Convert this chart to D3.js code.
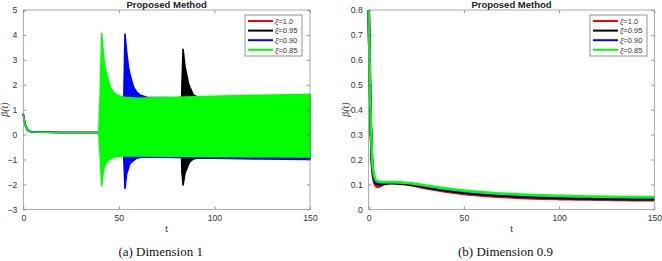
<!DOCTYPE html>
<html>
<head>
<meta charset="utf-8">
<script src="https://cdn.jsdelivr.net/npm/d3@7"></script>
<style>
  body { margin: 0; background: #fff; }
  svg { display: block; }
  .tick text { font-family: "Liberation Sans", Arial, sans-serif; font-size: 8.6px; fill: #333; }
</style>
</head>
<body>
<div id="root"></div>
<script>
// ---- data ----
const seriesNames = ["ξ=1.0", "ξ=0.95", "ξ=0.90", "ξ=0.85"];
const seriesColors = ["#ff0000", "#000000", "#0000ff", "#00ff00"];

// panel (a): envelope of the oscillation [t, upper, lower]
const envRed = [
  [0, 0.82, 0.82], [0.5, 0.6, 0.6], [1, 0.4, 0.4], [2, 0.2, 0.2], [3, 0.13, 0.13], [5, 0.1, 0.1],
  [10, 0.09, 0.09], [20, 0.085, 0.085], [30, 0.08, 0.08], [150, 0.07, 0.07]
];
const envBlack = [
  [0, 0.8, 0.8], [0.5, 0.6, 0.6], [1, 0.4, 0.4], [2, 0.2, 0.2], [3, 0.13, 0.13], [5, 0.1, 0.1],
  [10, 0.09, 0.09], [20, 0.085, 0.085], [30, 0.08, 0.08], [82.5, 0.08, 0.08],
  [83, 2.0, -1.5], [83.6, 3.42, -2.02], [84.6, 2.73, -1.55], [86.4, 2.06, -1.2], [87.2, 1.9, -1.09],
  [89, 1.59, -0.98], [90.7, 1.52, -0.95], [100, 1.5, -0.94], [150, 1.55, -0.95]
];
const envBlue = [
  [0, 0.8, 0.8], [0.5, 0.6, 0.6], [1, 0.4, 0.4], [2, 0.2, 0.2], [3, 0.13, 0.13], [5, 0.1, 0.1],
  [10, 0.09, 0.09], [20, 0.085, 0.085], [30, 0.08, 0.08], [52.3, 0.08, 0.08],
  [52.6, 1.5, -1.0], [53.2, 4.03, -2.16], [54.1, 3.3, -1.56], [55, 2.73, -1.35], [55.8, 2.4, -1.16],
  [57.6, 1.92, -1.05], [59.3, 1.7, -0.95], [61.1, 1.59, -0.92], [64.6, 1.5, -0.9],
  [80, 1.48, -0.92], [100, 1.5, -0.95], [125, 1.53, -0.98], [150, 1.55, -1.0]
];
const envGreen = [
  [0, 0.78, 0.78], [0.5, 0.58, 0.58], [1, 0.38, 0.38], [2, 0.19, 0.19], [3, 0.12, 0.12], [5, 0.1, 0.1],
  [10, 0.09, 0.09], [20, 0.085, 0.085], [30, 0.08, 0.08], [39.5, 0.08, 0.08],
  [40.2, 1.5, -0.8], [41, 4.05, -2.06], [41.9, 3.2, -1.42], [42.7, 2.73, -1.25], [43.6, 2.4, -1.09],
  [45.4, 1.92, -0.98], [47.1, 1.7, -0.91], [48.9, 1.59, -0.88], [52.3, 1.5, -0.86], [60, 1.46, -0.86],
  [80, 1.5, -0.87], [100, 1.54, -0.88], [125, 1.58, -0.89], [150, 1.62, -0.9]
];

// panel (b)
const tB = [0, 0.5, 1, 1.5, 2, 3, 4, 5, 6, 8, 10, 12, 15, 20, 25, 30, 40, 50, 60, 70, 80, 90, 100, 110, 120, 130, 140, 150];
const redB = [0.8, 0.55, 0.35, 0.22, 0.15, 0.105, 0.092, 0.09, 0.093, 0.1, 0.104, 0.105, 0.104, 0.1, 0.093, 0.085, 0.072, 0.062, 0.055, 0.05, 0.046, 0.043, 0.041, 0.04, 0.039, 0.038, 0.037, 0.037];
const blackB = [0.8, 0.56, 0.36, 0.23, 0.16, 0.115, 0.103, 0.1, 0.1, 0.103, 0.105, 0.106, 0.105, 0.102, 0.096, 0.089, 0.077, 0.067, 0.06, 0.055, 0.051, 0.048, 0.046, 0.044, 0.043, 0.042, 0.041, 0.041];
const blueB = [0.8, 0.57, 0.37, 0.24, 0.17, 0.12, 0.108, 0.105, 0.104, 0.105, 0.107, 0.107, 0.106, 0.104, 0.099, 0.092, 0.08, 0.071, 0.064, 0.059, 0.055, 0.052, 0.05, 0.048, 0.047, 0.046, 0.045, 0.045];
const greenB = [0.8, 0.58, 0.38, 0.26, 0.18, 0.13, 0.115, 0.112, 0.11, 0.109, 0.109, 0.109, 0.108, 0.106, 0.101, 0.095, 0.084, 0.075, 0.068, 0.063, 0.059, 0.056, 0.054, 0.052, 0.051, 0.05, 0.049, 0.049];

const xTicks = [0, 50, 100, 150];
const yTicksA = [-3, -2, -1, 0, 1, 2, 3, 4, 5];
const yTicksB = [0, 0.1, 0.2, 0.3, 0.4, 0.5, 0.6, 0.7, 0.8];

// ---- drawing ----
const W = 662, H = 261;
const svg = d3.select('#root').append('svg').attr('width', W).attr('height', H);

function frame(g, x, y, yTicks, yFmt) {
  const [x0, x1] = x.range(), [y1, y0] = y.range();
  const axisStyle = sel => {
    sel.select('.domain').remove();
    sel.selectAll('.tick line').attr('stroke', '#555').attr('stroke-width', 0.6);
  };
  g.append('g').attr('transform', `translate(0,${y1})`)
    .call(d3.axisBottom(x).tickValues(xTicks).tickSizeInner(-3).tickPadding(6)).call(axisStyle);
  g.append('g').attr('transform', `translate(0,${y0})`)
    .call(d3.axisTop(x).tickValues(xTicks).tickSizeInner(-3).tickFormat('')).call(axisStyle);
  g.append('g').attr('transform', `translate(${x0},0)`)
    .call(d3.axisLeft(y).tickValues(yTicks).tickSizeInner(-3).tickPadding(6).tickFormat(yFmt)).call(axisStyle);
  g.append('g').attr('transform', `translate(${x1},0)`)
    .call(d3.axisRight(y).tickValues(yTicks).tickSizeInner(-3).tickFormat('')).call(axisStyle);
  g.append('rect').attr('x', x0).attr('y', y0).attr('width', x1 - x0).attr('height', y1 - y0)
    .attr('fill', 'none').attr('stroke', '#888').attr('stroke-width', 0.7);
}

function labels(g, x, y, caption, ylabOff) {
  const [x0, x1] = x.range(), [y1, y0] = y.range();
  const cx = (x0 + x1) / 2;
  g.append('text').attr('x', cx).attr('y', 7.5).attr('text-anchor', 'middle')
    .style('font', 'bold 9.5px "Liberation Sans", Arial, sans-serif').attr('fill', '#222').text('Proposed Method');
  g.append('text').attr('x', cx).attr('y', y1 + 23).attr('text-anchor', 'middle')
    .style('font', '9.5px "Liberation Sans", Arial, sans-serif').attr('fill', '#333').text('t');
  g.append('text').attr('transform', `translate(${x0 - ylabOff},${(y0 + y1) / 2}) rotate(-90)`)
    .attr('text-anchor', 'middle').style('font', 'italic 10px "Liberation Serif", serif').attr('fill', '#333').text('β(t)');
  g.append('text').attr('x', cx - 6).attr('y', 256).attr('text-anchor', 'middle')
    .style('font', '13px "Liberation Serif", "Times New Roman", serif').attr('fill', '#111').text(caption);
}

function legend(g, lx, ly) {
  const box = g.append('g').attr('transform', `translate(${lx},${ly})`);
  box.append('rect').attr('width', 57).attr('height', 41).attr('fill', '#fff')
    .attr('stroke', '#666').attr('stroke-width', 0.7);
  seriesNames.forEach((name, i) => {
    const yy = 6 + i * 9.6;
    box.append('line').attr('x1', 3).attr('x2', 28).attr('y1', yy).attr('y2', yy)
      .attr('stroke', seriesColors[i]).attr('stroke-width', 2);
    const t = box.append('text').attr('x', 30).attr('y', yy + 2.8)
      .style('font', '7.5px "Liberation Sans", Arial, sans-serif').attr('fill', '#333');
    t.append('tspan').style('font-style', 'italic').text(name[0]);
    t.append('tspan').text(name.slice(1));
  });
}

// panel (a)
const xA = d3.scaleLinear().domain([0, 150]).range([23.3, 310]);
const yA = d3.scaleLinear().domain([-3, 5]).range([209.3, 10]);
const gA = svg.append('g');
const areaA = d3.area().x(d => xA(d[0])).y0(d => yA(d[2])).y1(d => yA(d[1]));
[envRed, envBlack, envBlue, envGreen].forEach((env, i) => {
  gA.append('path').datum(env).attr('d', areaA)
    .attr('fill', seriesColors[i]).attr('stroke', seriesColors[i]).attr('stroke-width', 1.6)
    .attr('stroke-linejoin', 'round');
});
frame(gA, xA, yA, yTicksA, d3.format('d'));
labels(gA, xA, yA, '(a) Dimension 1', 15);
legend(gA, 245, 15);

// panel (b)
const xB = d3.scaleLinear().domain([0, 150]).range([368.7, 654.3]);
const yB = d3.scaleLinear().domain([0, 0.8]).range([209.3, 10]);
const gB = svg.append('g');
const lineB = d3.line().x((d, i) => xB(tB[i])).y(d => yB(d)).curve(d3.curveMonotoneX);
[redB, blackB, blueB, greenB].forEach((vals, i) => {
  gB.append('path').datum(vals).attr('d', lineB)
    .attr('fill', 'none').attr('stroke', seriesColors[i]).attr('stroke-width', 2.6);
});
frame(gB, xB, yB, yTicksB, d => d === 0 ? '0' : d3.format('.1f')(d));
labels(gB, xB, yB, '(b) Dimension 0.9', 20);
legend(gB, 590, 15);
</script>
</body>
</html>
